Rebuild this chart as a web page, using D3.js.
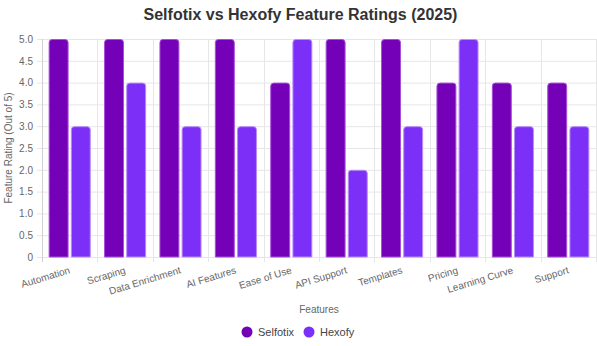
<!DOCTYPE html>
<html>
<head>
<meta charset="utf-8">
<script src="https://cdn.jsdelivr.net/npm/d3@7"></script>
<style>
  body { margin: 0; background: #fff; }
  svg { display: block; font-family: "Liberation Sans", Arial, sans-serif; }
</style>
</head>
<body>
<svg id="chart" width="597" height="346"></svg>
<script>
// Feature ratings (out of 5) for the two tools
const features = ["Automation", "Scraping", "Data Enrichment", "AI Features", "Ease of Use",
                  "API Support", "Templates", "Pricing", "Learning Curve", "Support"];
const selfotix = [5, 5, 5, 5, 4, 5, 5, 4, 4, 4];
const hexofy   = [3, 4, 3, 3, 5, 2, 3, 5, 3, 3];
const seriesNames = ["Selfotix", "Hexofy"];
const yTicks = [0, 0.5, 1, 1.5, 2, 2.5, 3, 3.5, 4, 4.5, 5];

const fills = ["#7400b8", "#7b2ff7"];
const strokes = ["#a64fd8", "#b88cfb"];

const svg = d3.select("#chart");
const W = 597, H = 346;
const m = { left: 42, right: 1, top: 39, bottom: 89 };
const iw = W - m.left - m.right, ih = H - m.top - m.bottom;

const g = svg.append("g").attr("transform", `translate(${m.left},${m.top})`);

const x = d3.scaleBand().domain(features).range([0, iw]).padding(0);
const x1 = d3.scaleBand().domain(seriesNames).range([x.bandwidth() * 0.1, x.bandwidth() * 0.9]).padding(0);
const y = d3.scaleLinear().domain([0, 5]).range([ih, 0]);

// Title
svg.append("text").attr("x", W / 2 + 2).attr("y", 20)
  .attr("text-anchor", "middle").attr("font-size", 16).attr("font-weight", "bold")
  .attr("fill", "#333").text("Selfotix vs Hexofy Feature Ratings (2025)");

// Horizontal grid
g.append("g").selectAll("line").data(yTicks).join("line")
  .attr("x1", -5).attr("x2", iw).attr("y1", d => y(d) + 0.5).attr("y2", d => y(d) + 0.5)
  .attr("stroke", "#e6e6e6");

// Vertical grid at category boundaries
const bounds = features.map(f => x(f)).concat([iw]);
g.append("g").selectAll("line").data(bounds).join("line")
  .attr("x1", d => Math.round(d) + 0.5).attr("x2", d => Math.round(d) + 0.5)
  .attr("y1", 0).attr("y2", ih + 5)
  .attr("stroke", d => d === 0 ? "#d0d0d0" : "#e6e6e6");

// Y axis labels
const yAxis = d3.axisLeft(y).tickValues(yTicks).tickSize(0).tickPadding(9)
  .tickFormat(d => d === 0 ? "0" : d3.format(".1f")(d));
g.append("g").call(yAxis).call(a => a.select(".domain").remove())
  .selectAll("text").attr("font-size", 10).attr("fill", "#666")
  .attr("font-family", "\"Liberation Sans\", Arial, sans-serif");

// Bars with rounded top corners
function barPath(x0, w, y0, y1, r) {
  r = Math.min(r, w / 2, y1 - y0);
  return `M${x0},${y1}V${y0 + r}Q${x0},${y0} ${x0 + r},${y0}H${x0 + w - r}Q${x0 + w},${y0} ${x0 + w},${y0 + r}V${y1}Z`;
}
const rows = features.map((f, i) => ({ f, vals: [selfotix[i], hexofy[i]] }));
rows.forEach(row => {
  row.vals.forEach((v, si) => {
    const bx = x(row.f) + x1(seriesNames[si]) + x1.bandwidth() * 0.05;
    const bw = x1.bandwidth() * 0.9;
    g.append("path")
      .attr("d", barPath(bx + 0.5, bw - 1, y(v) + 0.5, y(0), 3))
      .attr("fill", fills[si]).attr("stroke", strokes[si]).attr("stroke-width", 1);
  });
});

// X labels, rotated and anchored at category centre
g.append("g").selectAll("text").data(features).join("text")
  .attr("transform", d => `translate(${x(d) + x.bandwidth() / 2 + 1},${ih + 16}) rotate(-17)`)
  .attr("text-anchor", "end").attr("font-size", 10).attr("fill", "#666").text(d => d);

// Axis titles
svg.append("text").attr("x", m.left + iw / 2).attr("y", 313)
  .attr("text-anchor", "middle").attr("font-size", 10).attr("fill", "#666").text("Features");
svg.append("text").attr("transform", `translate(12,${m.top + ih / 2}) rotate(-90)`)
  .attr("text-anchor", "middle").attr("font-size", 10).attr("fill", "#666")
  .text("Feature Rating (Out of 5)");

// Legend
const legend = svg.append("g").attr("transform", "translate(0,332)");
const legX = [247, 309];
seriesNames.forEach((n, i) => {
  legend.append("circle").attr("cx", legX[i]).attr("cy", 0).attr("r", 5.5).attr("fill", fills[i]);
  legend.append("text").attr("x", legX[i] + 11).attr("y", 4)
    .attr("font-size", 11).attr("fill", "#444").text(n);
});
</script>
</body>
</html>
